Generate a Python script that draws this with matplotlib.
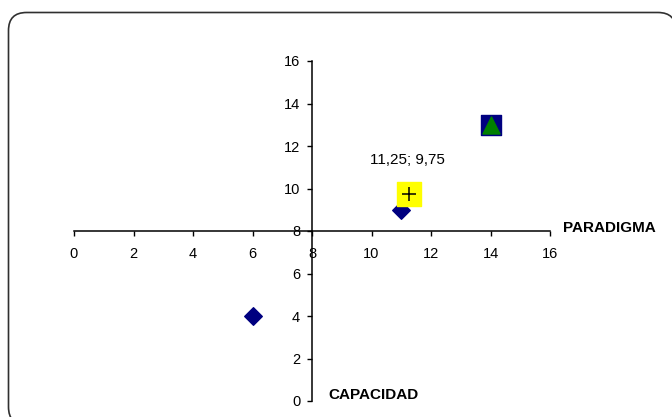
import matplotlib.pyplot as plt
from matplotlib.patches import PathPatch
from matplotlib.path import Path
from matplotlib.transforms import IdentityTransform

plt.rcParams["font.family"] = ["Liberation Sans", "DejaVu Sans"]

# series: (x, y)
diamond_x = [6, 11]
diamond_y = [4, 9]
square_x = [14]
square_y = [13]
triangle_x = [14]
triangle_y = [13]
mean_x = 11.25
mean_y = 9.75
mean_label = "11,25; 9,75"

ticks = list(range(0, 17, 2))
cross = 8

W, H = 672, 417
fig = plt.figure(figsize=(W / 100, H / 100), dpi=100)
ax = fig.add_axes([74 / W, 16 / H, 476 / W, 340 / H])

# rounded chart frame in pixels; right and bottom sides run off the canvas
x0, x1, y0, y1, r = 8.5, 676, -8, 404.5, 18
verts = [(x0 + 30, y0), (x0 + r, y0), (x0, y0), (x0, y0 + r),
         (x0, y1 - r), (x0, y1), (x0 + r, y1),
         (x1 - r, y1), (x1, y1), (x1, y1 - r), (x1, y1 - 100)]
codes = [Path.MOVETO, Path.LINETO, Path.CURVE3, Path.CURVE3,
         Path.LINETO, Path.CURVE3, Path.CURVE3,
         Path.LINETO, Path.CURVE3, Path.CURVE3, Path.LINETO]
frame = PathPatch(Path(verts, codes), transform=IdentityTransform(),
                  fill=False, edgecolor="#303030", linewidth=1.2)
fig.patches.append(frame)

navy = "#000080"
ax.scatter(diamond_x, diamond_y, marker="D", s=80, color=navy, zorder=3)
ax.scatter(square_x, square_y, marker="s", s=200, color=navy, zorder=3)
ax.scatter(triangle_x, triangle_y, marker="^", s=150, color="#008000", zorder=4)
ax.scatter([mean_x], [mean_y], marker="s", s=320, color="#FFFF00", zorder=5)
ax.scatter([mean_x], [mean_y], marker="+", s=110, color="black",
           linewidths=1.1, zorder=6)
ax.annotate(mean_label, (mean_x, mean_y), xytext=(-1, 24),
            textcoords="offset points", ha="center", va="center", fontsize=11)

ax.set_xlim(0, 16)
ax.set_ylim(0, 16)
ax.set_xticks(ticks)
ax.set_yticks(ticks)

for side in ("top", "right"):
    ax.spines[side].set_visible(False)
ax.spines["left"].set_position(("data", cross))
ax.spines["bottom"].set_position(("data", cross))
for side in ("left", "bottom"):
    ax.spines[side].set_linewidth(1.1)
    ax.spines[side].set_color("black")

ax.tick_params(axis="x", direction="out", length=3.5, width=1, pad=8,
               labelsize=10.5)
ax.tick_params(axis="y", direction="out", length=3.5, width=1, pad=5,
               labelsize=10.5)
ax.patch.set_visible(False)

ax.text(16.44, 8.14, "PARADIGMA", fontsize=11, fontweight="bold",
        ha="left", va="center", clip_on=False)
ax.text(8.54, 0.28, "CAPACIDAD", fontsize=11, fontweight="bold",
        ha="left", va="center", clip_on=False)

fig.savefig("out.png", dpi=100)
